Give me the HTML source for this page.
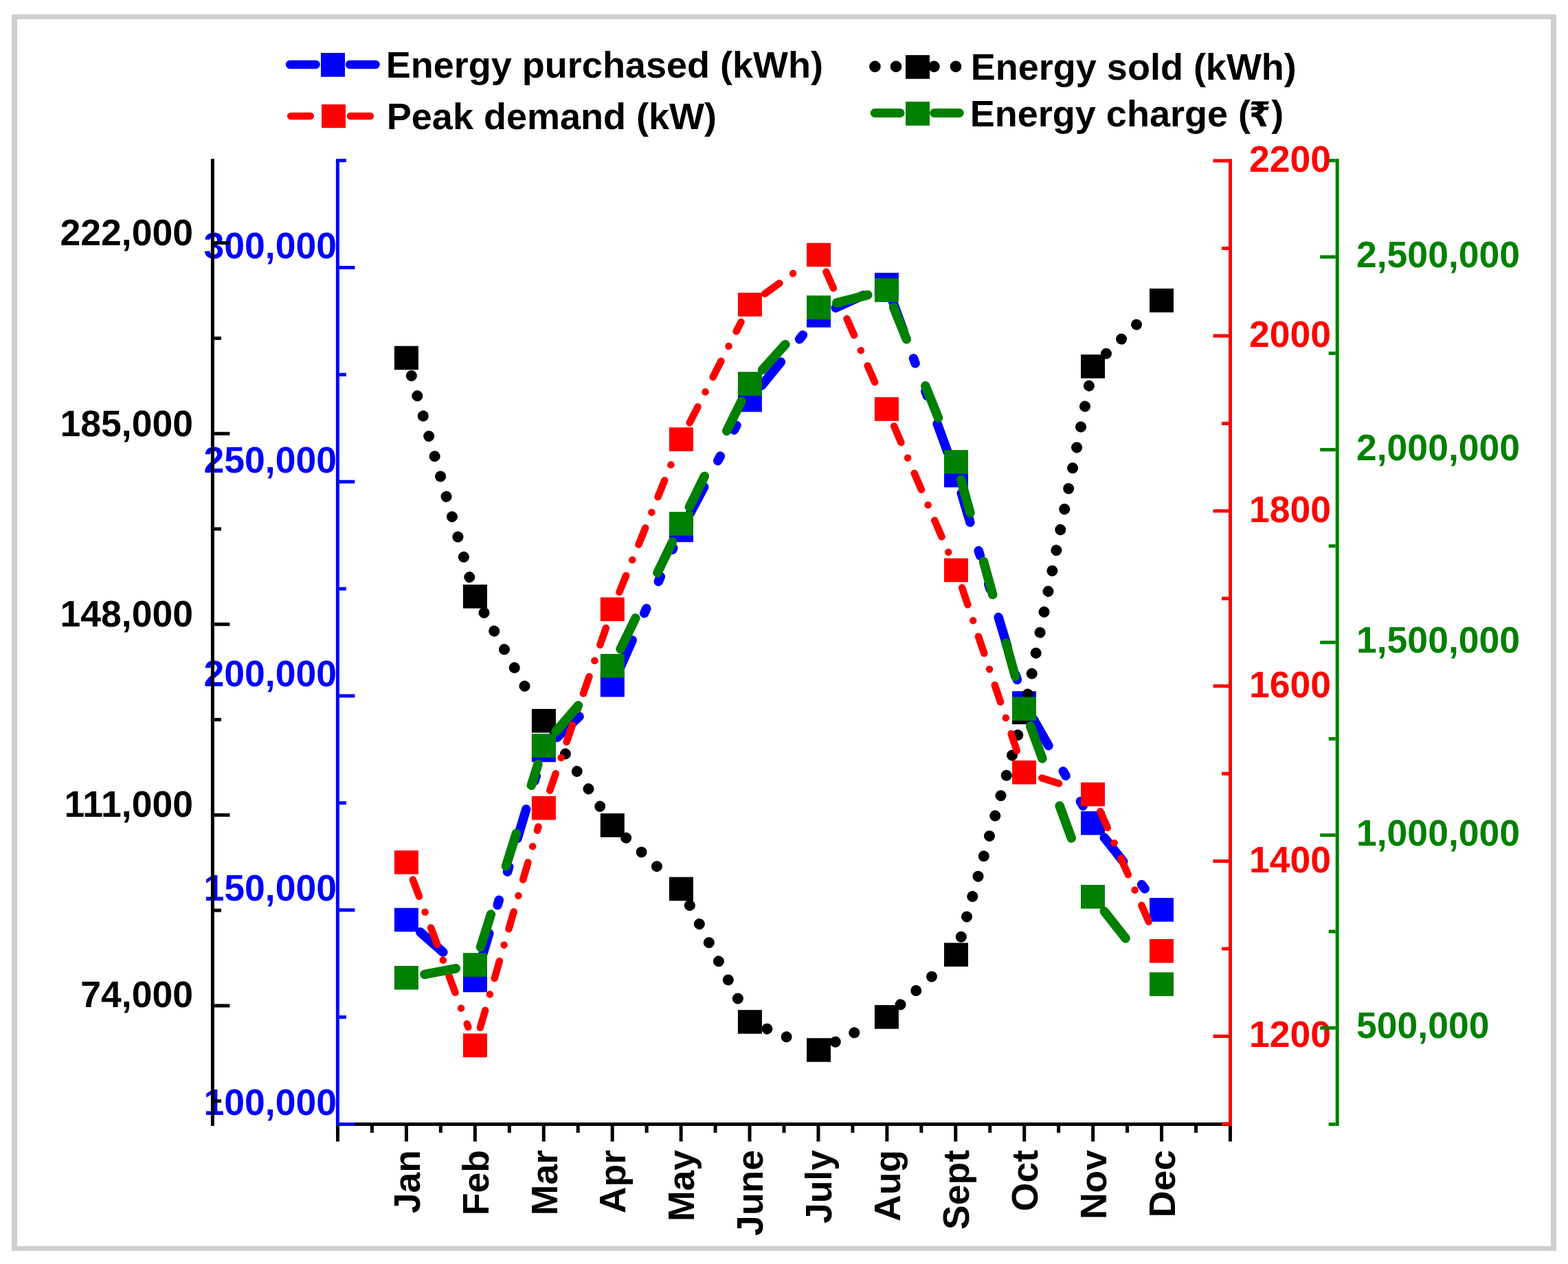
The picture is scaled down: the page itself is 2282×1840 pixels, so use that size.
<!DOCTYPE html>
<html><head><meta charset="utf-8"><title>Energy chart</title>
<style>
html,body{margin:0;padding:0;background:#fff;width:2282px;height:1840px;overflow:hidden}
svg{display:block}
text{font-family:"Liberation Sans","DejaVu Sans",sans-serif;font-weight:bold;font-size:53.5px}
text.leg{font-size:54px;fill:#000}
</style></head><body>
<svg width="2282" height="1840" viewBox="0 0 2282 1840">
<rect width="2282" height="1840" fill="#fff"/>
<rect x="17" y="21" width="2248" height="7" fill="#cfcdce"/>
<rect x="17" y="1814" width="2248" height="7" fill="#cfcdce"/>
<rect x="17" y="21" width="8" height="1800" fill="#cfcdce"/>
<rect x="2257" y="21" width="8" height="1800" fill="#cfcdce"/>
<g class="lbl"><text x="281" y="356.6" text-anchor="end" fill="#000">222,000</text><text x="281" y="634.8" text-anchor="end" fill="#000">185,000</text><text x="281" y="911.6" text-anchor="end" fill="#000">148,000</text><text x="281" y="1189.2" text-anchor="end" fill="#000">111,000</text><text x="281" y="1465.8" text-anchor="end" fill="#000">74,000</text><text x="490" y="375.8" text-anchor="end" fill="#0000ff">300,000</text><text x="490" y="687.55" text-anchor="end" fill="#0000ff">250,000</text><text x="490" y="999.3" text-anchor="end" fill="#0000ff">200,000</text><text x="490" y="1311.05" text-anchor="end" fill="#0000ff">150,000</text><text x="490" y="1622.8" text-anchor="end" fill="#0000ff">100,000</text><text x="1818" y="249.9" fill="#ff0000">2200</text><text x="1818" y="504.8" fill="#ff0000">2000</text><text x="1818" y="759.7" fill="#ff0000">1800</text><text x="1818" y="1014.6" fill="#ff0000">1600</text><text x="1818" y="1269.5" fill="#ff0000">1400</text><text x="1818" y="1524.4" fill="#ff0000">1200</text><text x="1974" y="389" fill="#008000">2,500,000</text><text x="1974" y="669.58" fill="#008000">2,000,000</text><text x="1974" y="950.15" fill="#008000">1,500,000</text><text x="1974" y="1230.72" fill="#008000">1,000,000</text><text x="1974" y="1511.3" fill="#008000">500,000</text><text transform="translate(610.72,1674) rotate(-90)" text-anchor="end" fill="#000">Jan</text><text transform="translate(710.64,1674) rotate(-90)" text-anchor="end" fill="#000">Feb</text><text transform="translate(810.56,1674) rotate(-90)" text-anchor="end" fill="#000">Mar</text><text transform="translate(910.48,1674) rotate(-90)" text-anchor="end" fill="#000">Apr</text><text transform="translate(1010.4,1674) rotate(-90)" text-anchor="end" fill="#000">May</text><text transform="translate(1110.32,1674) rotate(-90)" text-anchor="end" fill="#000">June</text><text transform="translate(1210.24,1674) rotate(-90)" text-anchor="end" fill="#000">July</text><text transform="translate(1310.16,1674) rotate(-90)" text-anchor="end" fill="#000">Aug</text><text transform="translate(1410.08,1674) rotate(-90)" text-anchor="end" fill="#000">Sept</text><text transform="translate(1510,1674) rotate(-90)" text-anchor="end" fill="#000">Oct</text><text transform="translate(1609.92,1674) rotate(-90)" text-anchor="end" fill="#000">Nov</text><text transform="translate(1709.84,1674) rotate(-90)" text-anchor="end" fill="#000">Dec</text></g>
<line x1="489" y1="1636.5" x2="1793" y2="1636.5" stroke="#000" stroke-width="5"/>
<g stroke="#000" stroke-width="5"><line x1="491.5" y1="1639" x2="491.5" y2="1661.7"/><line x1="591.42" y1="1639" x2="591.42" y2="1661.7"/><line x1="691.34" y1="1639" x2="691.34" y2="1661.7"/><line x1="791.26" y1="1639" x2="791.26" y2="1661.7"/><line x1="891.18" y1="1639" x2="891.18" y2="1661.7"/><line x1="991.1" y1="1639" x2="991.1" y2="1661.7"/><line x1="1091.02" y1="1639" x2="1091.02" y2="1661.7"/><line x1="1190.94" y1="1639" x2="1190.94" y2="1661.7"/><line x1="1290.86" y1="1639" x2="1290.86" y2="1661.7"/><line x1="1390.78" y1="1639" x2="1390.78" y2="1661.7"/><line x1="1490.7" y1="1639" x2="1490.7" y2="1661.7"/><line x1="1590.62" y1="1639" x2="1590.62" y2="1661.7"/><line x1="1690.54" y1="1639" x2="1690.54" y2="1661.7"/><line x1="1790.46" y1="1639" x2="1790.46" y2="1661.7"/><line x1="541.46" y1="1639" x2="541.46" y2="1649"/><line x1="641.38" y1="1639" x2="641.38" y2="1649"/><line x1="741.3" y1="1639" x2="741.3" y2="1649"/><line x1="841.22" y1="1639" x2="841.22" y2="1649"/><line x1="941.14" y1="1639" x2="941.14" y2="1649"/><line x1="1041.06" y1="1639" x2="1041.06" y2="1649"/><line x1="1140.98" y1="1639" x2="1140.98" y2="1649"/><line x1="1240.9" y1="1639" x2="1240.9" y2="1649"/><line x1="1340.82" y1="1639" x2="1340.82" y2="1649"/><line x1="1440.74" y1="1639" x2="1440.74" y2="1649"/><line x1="1540.66" y1="1639" x2="1540.66" y2="1649"/><line x1="1640.58" y1="1639" x2="1640.58" y2="1649"/><line x1="1740.5" y1="1639" x2="1740.5" y2="1649"/></g>
<g stroke="#000000" stroke-width="5"><line x1="309.4" y1="231.2" x2="309.4" y2="1639"/><line x1="311.9" y1="353.6" x2="334.4" y2="353.6"/><line x1="311.9" y1="631.2" x2="334.4" y2="631.2"/><line x1="311.9" y1="908.8" x2="334.4" y2="908.8"/><line x1="311.9" y1="1186.4" x2="334.4" y2="1186.4"/><line x1="311.9" y1="1464" x2="334.4" y2="1464"/><line x1="311.9" y1="492.4" x2="321.9" y2="492.4"/><line x1="311.9" y1="770" x2="321.9" y2="770"/><line x1="311.9" y1="1047.6" x2="321.9" y2="1047.6"/><line x1="311.9" y1="1325.2" x2="321.9" y2="1325.2"/><line x1="311.9" y1="1602.8" x2="321.9" y2="1602.8"/></g>
<g stroke="#0000ff" stroke-width="5"><line x1="491.4" y1="231.2" x2="491.4" y2="1639"/><line x1="493.9" y1="389.5" x2="516.4" y2="389.5"/><line x1="493.9" y1="701.25" x2="516.4" y2="701.25"/><line x1="493.9" y1="1013" x2="516.4" y2="1013"/><line x1="493.9" y1="1324.75" x2="516.4" y2="1324.75"/><line x1="493.9" y1="1636.5" x2="516.4" y2="1636.5"/><line x1="493.9" y1="233.6" x2="503.9" y2="233.6"/><line x1="493.9" y1="545.35" x2="503.9" y2="545.35"/><line x1="493.9" y1="857.1" x2="503.9" y2="857.1"/><line x1="493.9" y1="1168.85" x2="503.9" y2="1168.85"/><line x1="493.9" y1="1480.6" x2="503.9" y2="1480.6"/></g>
<g stroke="#ff0000" stroke-width="5"><line x1="1790.5" y1="231.2" x2="1790.5" y2="1639"/><line x1="1788" y1="234" x2="1765.5" y2="234"/><line x1="1788" y1="488.9" x2="1765.5" y2="488.9"/><line x1="1788" y1="743.8" x2="1765.5" y2="743.8"/><line x1="1788" y1="998.7" x2="1765.5" y2="998.7"/><line x1="1788" y1="1253.6" x2="1765.5" y2="1253.6"/><line x1="1788" y1="1508.5" x2="1765.5" y2="1508.5"/><line x1="1788" y1="361.5" x2="1778" y2="361.5"/><line x1="1788" y1="616.4" x2="1778" y2="616.4"/><line x1="1788" y1="871.3" x2="1778" y2="871.3"/><line x1="1788" y1="1126.2" x2="1778" y2="1126.2"/><line x1="1788" y1="1381.1" x2="1778" y2="1381.1"/><line x1="1788" y1="1636" x2="1778" y2="1636"/></g>
<g stroke="#008000" stroke-width="5"><line x1="1946.2" y1="231.2" x2="1946.2" y2="1639"/><line x1="1943.7" y1="374" x2="1921.2" y2="374"/><line x1="1943.7" y1="654.58" x2="1921.2" y2="654.58"/><line x1="1943.7" y1="935.15" x2="1921.2" y2="935.15"/><line x1="1943.7" y1="1215.72" x2="1921.2" y2="1215.72"/><line x1="1943.7" y1="1496.3" x2="1921.2" y2="1496.3"/><line x1="1943.7" y1="233.7" x2="1933.7" y2="233.7"/><line x1="1943.7" y1="514.27" x2="1933.7" y2="514.27"/><line x1="1943.7" y1="794.85" x2="1933.7" y2="794.85"/><line x1="1943.7" y1="1075.42" x2="1933.7" y2="1075.42"/><line x1="1943.7" y1="1356" x2="1933.7" y2="1356"/><line x1="1943.7" y1="1636.58" x2="1933.7" y2="1636.58"/></g>
<line x1="422" y1="94" x2="459.6" y2="94" stroke="#0000ff" stroke-width="12.5" stroke-linecap="round"/><line x1="509" y1="94" x2="546.5" y2="94" stroke="#0000ff" stroke-width="12.5" stroke-linecap="round"/><rect x="467" y="77" width="35" height="34.8" fill="#0000ff"/><line x1="423.2" y1="169" x2="451.8" y2="169" stroke="#ff0000" stroke-width="10.5" stroke-linecap="round"/><line x1="510" y1="169" x2="538.8" y2="169" stroke="#ff0000" stroke-width="10.5" stroke-linecap="round"/><rect x="468" y="152" width="35" height="34.2" fill="#ff0000"/><circle cx="1273.4" cy="96.9" r="8.3" fill="#000"/><circle cx="1304" cy="96.9" r="8.3" fill="#000"/><circle cx="1359.4" cy="96.9" r="8.3" fill="#000"/><circle cx="1391" cy="96.9" r="8.3" fill="#000"/><rect x="1318" y="80.2" width="35" height="34.6" fill="#000"/><line x1="1273.2" y1="164.5" x2="1310.1" y2="164.5" stroke="#008000" stroke-width="13" stroke-linecap="round"/><line x1="1359.6" y1="164.5" x2="1396.3" y2="164.5" stroke="#008000" stroke-width="13" stroke-linecap="round"/><rect x="1318" y="148" width="35" height="34.8" fill="#008000"/><text class="leg" x="561.8" y="113">Energy purchased (kWh)</text><text class="leg" x="562.8" y="187.9">Peak demand (kW)</text><text class="leg" x="1412.8" y="116">Energy sold (kWh)</text><text class="leg" x="1411.8" y="183.7">Energy charge (<tspan dx="-2" style="font-family:'DejaVu Sans Condensed','DejaVu Sans',sans-serif;font-weight:bold;font-stretch:condensed;font-size:50px;letter-spacing:1px">₹</tspan>)</text>
<g fill="#0000ff"><rect x="573.9" y="1321.7" width="35" height="34.6"/><rect x="673.9" y="1409.7" width="35" height="34.6"/><rect x="773.9" y="1074.7" width="35" height="34.6"/><rect x="873.8" y="979.9" width="35" height="34.6"/><rect x="973.9" y="754.5" width="35" height="34.6"/><rect x="1073.9" y="565" width="35" height="34.6"/><rect x="1174" y="442" width="35" height="34.6"/><rect x="1272.9" y="397.1" width="35" height="34.6"/><rect x="1374" y="674.8" width="35" height="34.6"/><rect x="1473" y="1006.2" width="35" height="34.6"/><rect x="1573" y="1180.9" width="35" height="34.6"/><rect x="1673" y="1307.1" width="35" height="34.6"/></g>
<g stroke="#000000" stroke-width="16" stroke-linecap="round" stroke-dasharray="0.01 30.5" fill="none"><line x1="598.87" y1="546.95" x2="683.51" y2="840.91"/><line x1="704.46" y1="891.93" x2="777.62" y2="1024.35"/><line x1="806.22" y1="1071.87" x2="875.65" y2="1177.58"/><line x1="911.12" y1="1219.73" x2="970.48" y2="1274.65"/><line x1="1003.8" y1="1317.99" x2="1078.32" y2="1462.18"/><line x1="1116.39" y1="1497.73" x2="1165.13" y2="1517.7"/><line x1="1215.78" y1="1516.69" x2="1264.77" y2="1492.86"/><line x1="1310.51" y1="1462.38" x2="1370.28" y2="1408.82"/><line x1="1398.79" y1="1363.8" x2="1482.8" y2="1064.44"/><line x1="1495.76" y1="1010.52" x2="1584.95" y2="561.35"/><line x1="1609.98" y1="514.7" x2="1669.94" y2="457.14"/></g>
<g fill="#000000"><rect x="573.9" y="503.7" width="35" height="34.6"/><rect x="673.9" y="851" width="35" height="34.6"/><rect x="773.9" y="1032" width="35" height="34.6"/><rect x="873.8" y="1184.1" width="35" height="34.6"/><rect x="973.9" y="1276.7" width="35" height="34.6"/><rect x="1073.9" y="1470.2" width="35" height="34.6"/><rect x="1174" y="1511.2" width="35" height="34.6"/><rect x="1272.9" y="1463.1" width="35" height="34.6"/><rect x="1374" y="1372.5" width="35" height="34.6"/><rect x="1473" y="1019.7" width="35" height="34.6"/><rect x="1573" y="516.1" width="35" height="34.6"/><rect x="1673" y="420.1" width="35" height="34.6"/></g>
<g stroke="#0000ff" stroke-width="13.5" stroke-linecap="round" stroke-dasharray="44.3 43 7.6 43 7.6 43" fill="none"><line x1="611.67" y1="1356.84" x2="670" y2="1408.17"/><line x1="699.12" y1="1401.13" x2="783.25" y2="1119.31"/><line x1="810.99" y1="1073.41" x2="870.63" y2="1016.82"/><line x1="902.26" y1="972.52" x2="979.83" y2="797.85"/><line x1="1004" y1="747.92" x2="1078.1" y2="607.51"/><line x1="1108.44" y1="561.36" x2="1173.51" y2="481.4"/><line x1="1216.09" y1="448.14" x2="1264.45" y2="426.18"/><line x1="1299.64" y1="439.77" x2="1381.75" y2="665.32"/><line x1="1399.23" y1="717.97" x2="1482.34" y2="996.19"/><line x1="1503.91" y1="1046.93" x2="1576.34" y2="1173.47"/><line x1="1607.27" y1="1219.36" x2="1672.8" y2="1302.06"/></g>
<g stroke="#ff0000" stroke-width="10.5" stroke-linecap="round" stroke-dasharray="26 24.4 0.01 24.3" fill="none"><line x1="600.89" y1="1280.58" x2="681.39" y2="1495.12"/><line x1="698.9" y1="1495.86" x2="783.48" y2="1203.58"/><line x1="800.21" y1="1150.68" x2="882" y2="913.84"/><line x1="901.43" y1="861.87" x2="980.71" y2="665.92"/><line x1="1003.67" y1="615.45" x2="1078.45" y2="468.79"/><line x1="1113.28" y1="427.58" x2="1168.41" y2="387.7"/><line x1="1202.39" y1="395.71" x2="1278.91" y2="569.42"/><line x1="1301.09" y1="620.29" x2="1380.22" y2="803.83"/><line x1="1400.11" y1="855.59" x2="1481.42" y2="1097.39"/><line x1="1516.22" y1="1132.61" x2="1563.35" y2="1147.64"/><line x1="1601.34" y1="1181.03" x2="1679.05" y2="1358.2"/></g>
<g fill="#ff0000"><rect x="573.9" y="1238" width="35" height="34.6"/><rect x="673.9" y="1504.5" width="35" height="34.6"/><rect x="773.9" y="1158.9" width="35" height="34.6"/><rect x="873.8" y="869.6" width="35" height="34.6"/><rect x="973.9" y="622.2" width="35" height="34.6"/><rect x="1073.9" y="426.1" width="35" height="34.6"/><rect x="1174" y="353.7" width="35" height="34.6"/><rect x="1272.9" y="578.2" width="35" height="34.6"/><rect x="1374" y="812.7" width="35" height="34.6"/><rect x="1473" y="1107.1" width="35" height="34.6"/><rect x="1573" y="1139" width="35" height="34.6"/><rect x="1673" y="1367" width="35" height="34.6"/></g>
<g stroke="#008000" stroke-width="13.5" stroke-linecap="round" stroke-dasharray="50 73.4" fill="none"><line x1="617.94" y1="1418.31" x2="663.39" y2="1409.77"/><line x1="699.48" y1="1378.74" x2="782.87" y2="1112.7"/><line x1="808.99" y1="1065.02" x2="872.73" y2="990.82"/><line x1="903.06" y1="944.9" x2="978.98" y2="788.05"/><line x1="1003.29" y1="738.16" x2="1078.85" y2="584.19"/><line x1="1109.47" y1="538.54" x2="1172.42" y2="468.67"/><line x1="1217.67" y1="440.86" x2="1262.78" y2="429.41"/><line x1="1300.52" y1="447.43" x2="1380.82" y2="645.98"/><line x1="1398.67" y1="698.43" x2="1482.93" y2="1004.32"/><line x1="1499.77" y1="1057.16" x2="1580.72" y2="1278.63"/><line x1="1607.18" y1="1326.63" x2="1672.89" y2="1410.29"/></g>
<g fill="#008000"><rect x="573.9" y="1406" width="35" height="34.6"/><rect x="673.9" y="1387.2" width="35" height="34.6"/><rect x="773.9" y="1068.2" width="35" height="34.6"/><rect x="873.8" y="951.9" width="35" height="34.6"/><rect x="973.9" y="745.1" width="35" height="34.6"/><rect x="1073.9" y="541.3" width="35" height="34.6"/><rect x="1174" y="430.2" width="35" height="34.6"/><rect x="1272.9" y="405.1" width="35" height="34.6"/><rect x="1374" y="655.1" width="35" height="34.6"/><rect x="1473" y="1014.5" width="35" height="34.6"/><rect x="1573" y="1288.1" width="35" height="34.6"/><rect x="1673" y="1415.4" width="35" height="34.6"/></g>
</svg>
</body></html>
